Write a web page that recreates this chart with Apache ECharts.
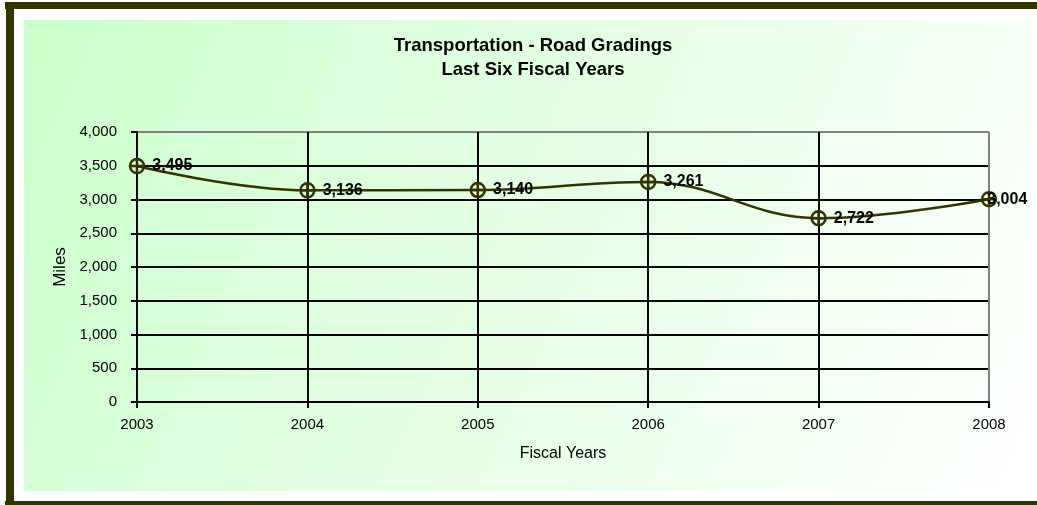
<!DOCTYPE html>
<html>
<head>
<meta charset="utf-8">
<script src="https://cdn.jsdelivr.net/npm/echarts@6/dist/echarts.min.js"></script>
<style>
  html, body { margin: 0; padding: 0; background: #fff; }
  #chart { width: 1037px; height: 505px; }
</style>
</head>
<body>
<div id="chart"></div>
<script>
// Data
const years = ['2003', '2004', '2005', '2006', '2007', '2008']
const miles = [3495, 3136, 3140, 3261, 2722, 3004]
const yTicks = [0, 500, 1000, 1500, 2000, 2500, 3000, 3500, 4000]

const font = 'Arial, "Liberation Sans", sans-serif'
const olive = '#333300'
const fmt = v => Number(v).toLocaleString('en-US')

// circle with a cross, stroked only
const crossCircle = 'path://M10,0 A10,10 0 1,1 10,20 A10,10 0 1,1 10,0 Z M10,0 L10,20 M0,10 L20,10'

const chart = echarts.init(document.getElementById('chart'))

// split line colours: black inside, grey on the plot border
const ySplitColors = yTicks.map((t, i) => i === yTicks.length - 1 ? '#808080' : '#000')
const xSplitColors = years.map((y, i) => i === years.length - 1 ? '#808080' : '#000')

chart.setOption({
  animation: false,
  textStyle: { fontFamily: font },
  graphic: [
    // outer frame
    { type: 'rect', z: -10, shape: { x: 5, y: 2, width: 1032, height: 7 }, style: { fill: '#333300' } },
    { type: 'rect', z: -10, shape: { x: 6, y: 2, width: 8, height: 503 }, style: { fill: '#333300' } },
    { type: 'rect', z: -10, shape: { x: 5, y: 501, width: 1032, height: 4 }, style: { fill: '#333300' } },
    // chart area background
    {
      type: 'rect', z: -10,
      shape: { x: 24, y: 20, width: 1008, height: 471 },
      style: {
        fill: new echarts.graphic.LinearGradient(0, 0, 1, 1, [
          { offset: 0, color: '#ccffcc' },
          { offset: 1, color: '#ffffff' }
        ])
      }
    }
  ],
  title: {
    text: 'Transportation - Road Gradings\nLast Six Fiscal Years',
    left: 528,
    top: 29,
    textAlign: 'center',
    textStyle: { fontFamily: font, fontSize: 18.5, fontWeight: 'bold', color: '#000', lineHeight: 24 }
  },
  grid: { left: 137, right: 48, top: 132, bottom: 103 },
  xAxis: {
    type: 'category',
    data: years,
    boundaryGap: false,
    name: 'Fiscal Years',
    nameLocation: 'middle',
    nameGap: 44,
    nameTextStyle: { fontFamily: font, fontSize: 16, color: '#000' },
    axisLine: { lineStyle: { color: '#000', width: 2 } },
    axisTick: { show: true, length: 6, lineStyle: { color: '#000', width: 2 } },
    axisLabel: { fontFamily: font, fontSize: 15, color: '#000', margin: 15 },
    splitLine: { show: true, lineStyle: { color: xSplitColors, width: 2 } }
  },
  yAxis: {
    type: 'value',
    min: 0,
    max: 4000,
    interval: 500,
    name: 'Miles',
    nameLocation: 'middle',
    nameGap: 66,
    nameTextStyle: { fontFamily: font, fontSize: 17, color: '#000' },
    axisLine: { show: true, lineStyle: { color: '#000', width: 2 } },
    axisTick: { show: true, length: 6, lineStyle: { color: '#000', width: 2 } },
    axisLabel: { fontFamily: font, fontSize: 15, color: '#000', margin: 20, formatter: fmt },
    splitLine: { show: true, lineStyle: { color: ySplitColors, width: 2 } }
  },
  series: [{
    type: 'line',
    data: miles.map((v, i) => i === miles.length - 1
      ? { value: v, label: { offset: [-17, 0] } }
      : v),
    smooth: 0.4,
    symbol: crossCircle,
    symbolSize: 14,
    lineStyle: { color: olive, width: 2.5 },
    itemStyle: { color: 'rgba(0,0,0,0)', borderColor: olive, borderWidth: 2.5 },
    label: {
      show: true,
      position: 'right',
      distance: 7,
      fontFamily: font,
      fontSize: 16,
      fontWeight: 'bold',
      color: '#000',
      formatter: p => fmt(p.value)
    }
  }]
})
</script>
</body>
</html>
